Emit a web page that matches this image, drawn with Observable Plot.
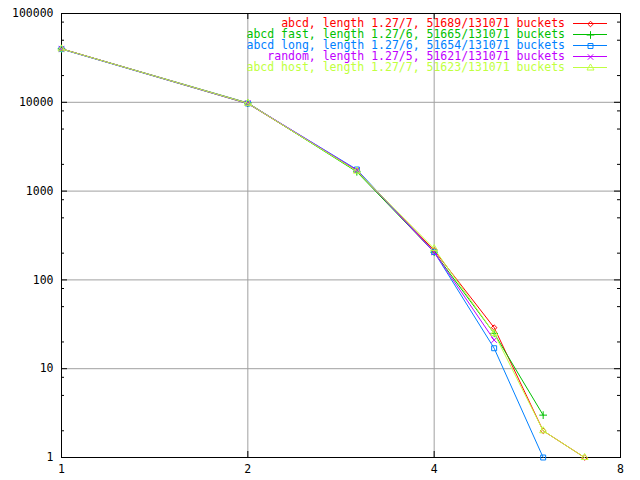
<!DOCTYPE html>
<html><head><meta charset="utf-8">
<script src="https://cdn.jsdelivr.net/npm/d3@7"></script>
<script src="https://cdn.jsdelivr.net/npm/@observablehq/plot@0.6"></script>
<style>body{margin:0;background:#fff} svg{display:block}</style>
</head><body><div id="chart"></div>
<script>
// ---- data ----
const lengths = [1, 2, 3, 4, 5, 6, 7];
const seriesNames = ["abcd", "abcd fast", "abcd long", "random", "abcd host"];
const seriesLabels = [
  "abcd, length 1.27/7, 51689/131071 buckets",
  "abcd fast, length 1.27/6, 51665/131071 buckets",
  "abcd long, length 1.27/6, 51654/131071 buckets",
  "random, length 1.27/5, 51621/131071 buckets",
  "abcd host, length 1.27/7, 51623/131071 buckets"
];
const abcd     = [40070, 9670, 1700, 215, 29, 2, 1];
const abcdFast = [39940, 9840, 1650, 205, 25, 3];
const abcdLong = [39740, 9690, 1750, 206, 17, 1];
const random   = [39900, 9780, 1720, 205, 21];
const abcdHost = [39930, 9760, 1680, 225, 25, 2, 1];
const seriesValues = [abcd, abcdFast, abcdLong, random, abcdHost];
const seriesColors = ["#ff0000", "#00c000", "#0080ff", "#c000ff", "#c0ff40"];
const seriesSymbols = ["diamond2", "plus", "square", "times", "triangle"];
const seriesRadius = [2.5, 2.6, 2.8, 2.6, 2.6];
const xTicks = [1, 2, 4, 8];
const xGrid = [2, 4];
const yTicks = [1, 10, 100, 1000, 10000, 100000];
const yGrid = [10, 100, 1000, 10000];
const yMinor = [2, 5, 8, 20, 50, 80, 200, 500, 800, 2000, 5000, 8000, 20000, 50000, 80000];

// ---- layout ----
const W = 640, H = 480, mL = 61, mR = 20, mT = 13, mB = 23;
const plotW = W - mL - mR, plotH = H - mT - mB;
const FONT = "'DejaVu Sans Mono', monospace";
const FS = 11.5;

const rows = seriesNames.map((s, i) =>
  seriesValues[i].map((v, j) => ({series: s, len: lengths[j], count: v})));

function legendMark(index, scales, values, dims) {
  const g = d3.create("svg:g")
    .attr("font-family", FONT).attr("font-size", FS);
  const right = dims.width - dims.marginRight;
  seriesLabels.forEach((lab, i) => {
    const y = dims.marginTop + 10 + i * 11;
    g.append("text").attr("x", right - 55).attr("y", y).attr("dy", "0.35em")
      .attr("text-anchor", "end").attr("fill", seriesColors[i]).text(lab);
    g.append("line").attr("x1", right - 47).attr("x2", right - 13)
      .attr("y1", y + 0.5).attr("y2", y + 0.5).attr("stroke", seriesColors[i])
      .attr("shape-rendering", "crispEdges");
  });
  return g.node();
}

const seriesMarks = seriesNames.flatMap((s, i) => [
  Plot.line(rows[i], {x: "len", y: "count", stroke: seriesColors[i], strokeWidth: 1,
    style: "shape-rendering: crispEdges"}),
  Plot.dot(rows[i], {x: "len", y: "count", stroke: seriesColors[i], fill: "none",
    symbol: seriesSymbols[i], r: seriesRadius[i], strokeWidth: 1})
]);

const legendDots = seriesNames.map((s, i) =>
  Plot.dot([s], {frameAnchor: "top-right", dx: -30, dy: 10.5 + i * 11,
    stroke: seriesColors[i], fill: "none", symbol: seriesSymbols[i], r: seriesRadius[i], strokeWidth: 1}));

const chart = Plot.plot({
  width: W, height: H,
  marginLeft: mL, marginRight: mR, marginTop: mT, marginBottom: mB,
  style: {fontFamily: FONT, fontSize: FS + "px", background: "#fff", color: "#000"},
  x: {type: "log", base: 2, domain: [1, 8]},
  y: {type: "log", domain: [1, 100000]},
  marks: [
    Plot.ruleX(xGrid, {x: d => d, stroke: "#a0a0a0"}),
    Plot.ruleY(yGrid, {y: d => d, stroke: "#a0a0a0"}),
    Plot.ruleY(yTicks, {y: d => d, insetRight: plotW - 6, stroke: "#000"}),
    Plot.ruleY(yTicks, {y: d => d, insetLeft: plotW - 6, stroke: "#000"}),
    Plot.ruleY(yMinor, {y: d => d, insetRight: plotW - 3, stroke: "#000"}),
    Plot.ruleY(yMinor, {y: d => d, insetLeft: plotW - 3, stroke: "#000"}),
    Plot.ruleX(xTicks, {x: d => d, insetTop: plotH - 6, stroke: "#000"}),
    Plot.ruleX(xTicks, {x: d => d, insetBottom: plotH - 6, stroke: "#000"}),
    Plot.frame({stroke: "#000"}),
    Plot.axisX({ticks: xTicks, tickSize: 0, tickPadding: 7, tickFormat: d => String(d), label: null, fill: "#000"}),
    Plot.axisY({ticks: yTicks, tickSize: 0, tickPadding: 8, tickFormat: d => String(d), label: null, fill: "#000"}),
    ...seriesMarks,
    legendMark,
    ...legendDots
  ]
});
document.getElementById("chart").append(chart);
</script>
</body></html>
